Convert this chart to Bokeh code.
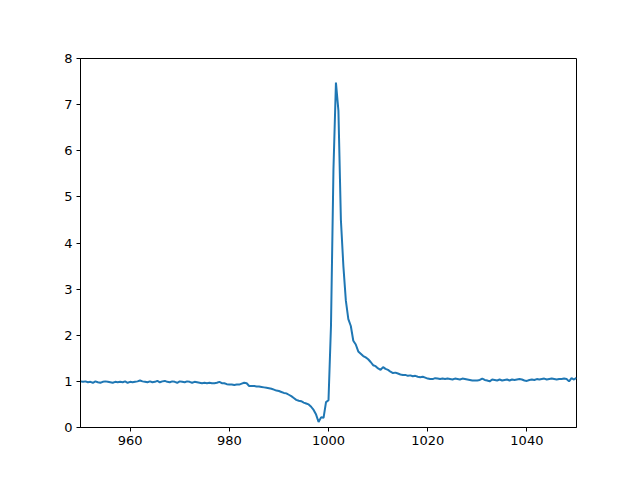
import numpy as np
from bokeh.plotting import figure
from bokeh.models import FixedTicker, Range1d
from bokeh.embed import file_html
from bokeh.resources import INLINE

x_start = 950.0
x_step = 0.5
y_values = [
    # 950 - 960
    1.00, 0.99, 1.00, 0.98, 0.99, 0.97, 1.00, 0.98, 0.97, 0.99,
    1.00, 0.99, 0.98, 0.97, 0.99, 0.98, 0.99, 0.98, 1.00, 0.97, 0.99,
    # 960.5 - 970
    0.98, 0.99, 1.00, 1.02, 1.00, 0.99, 0.98, 1.00, 0.98, 0.99,
    1.01, 0.98, 1.00, 1.01, 0.99, 0.98, 1.00, 0.99, 0.97, 1.00,
    # 970.5 - 980
    0.99, 0.98, 1.00, 0.99, 0.97, 0.99, 0.98, 0.97, 0.96, 0.97,
    0.96, 0.97, 0.96, 0.96, 0.97, 0.99, 0.96, 0.96, 0.94, 0.93,
    # 980.5 - 990
    0.93, 0.92, 0.93, 0.93, 0.95, 0.97, 0.96, 0.90, 0.90, 0.90,
    0.89, 0.89, 0.88, 0.87, 0.86, 0.85, 0.84, 0.82, 0.80, 0.79,
    # 990.5 - 1000
    0.77, 0.75, 0.74, 0.71, 0.68, 0.64, 0.60, 0.58, 0.57, 0.54,
    0.52, 0.50, 0.45, 0.38, 0.28, 0.12, 0.22, 0.21, 0.55, 0.59,
    # 1000.5 - 1010
    2.20, 5.60, 7.48, 6.87, 4.50, 3.50, 2.75, 2.35, 2.20, 1.88,
    1.80, 1.65, 1.60, 1.55, 1.52, 1.48, 1.42, 1.35, 1.33, 1.28,
    # 1010.5 - 1020
    1.25, 1.31, 1.27, 1.25, 1.21, 1.18, 1.19, 1.17, 1.15, 1.14,
    1.14, 1.12, 1.13, 1.11, 1.12, 1.10, 1.09, 1.10, 1.08, 1.06,
    # 1020.5 - 1030
    1.05, 1.05, 1.07, 1.06, 1.05, 1.06, 1.05, 1.06, 1.05, 1.04,
    1.06, 1.05, 1.04, 1.06, 1.05, 1.04, 1.03, 1.02, 1.02, 1.02,
    # 1030.5 - 1040
    1.03, 1.06, 1.03, 1.02, 1.00, 1.04, 1.03, 1.02, 1.04, 1.02,
    1.03, 1.04, 1.02, 1.04, 1.03, 1.04, 1.05, 1.04, 1.02, 1.01,
    # 1040.5 - 1050
    1.03, 1.04, 1.03, 1.05, 1.04, 1.05, 1.06, 1.04, 1.05, 1.06,
    1.05, 1.04, 1.05, 1.05, 1.06, 1.05, 1.00, 1.07, 1.04, 1.08,
]
x_values = [x_start + i * x_step for i in range(len(y_values))]

x_ticks = [960, 980, 1000, 1020, 1040]
y_ticks = [0, 1, 2, 3, 4, 5, 6, 7, 8]

p = figure(width=632, height=472, output_backend="svg", toolbar_location=None,
           x_range=Range1d(950, 1050), y_range=Range1d(0, 8),
           min_border_left=80, min_border_right=56, min_border_top=58, min_border_bottom=45)

p.line(x_values, y_values, line_color="#1f77b4", line_width=2)

p.xgrid.visible = False
p.ygrid.visible = False
p.outline_line_color = "black"
p.outline_line_width = 1
p.outline_line_alpha = 1

for ax in (p.xaxis[0], p.yaxis[0]):
    ax.axis_line_color = "black"
    ax.major_tick_line_color = "black"
    ax.major_tick_out = 4
    ax.major_tick_in = 0
    ax.minor_tick_line_color = None
    ax.major_label_text_font = "DejaVu Sans"
    ax.major_label_text_font_size = "13px"
    ax.major_label_text_color = "black"
    ax.major_label_standoff = 4

p.xaxis[0].ticker = FixedTicker(ticks=x_ticks)
p.yaxis[0].ticker = FixedTicker(ticks=y_ticks)

open("out.html", "w").write(file_html(p, INLINE))
